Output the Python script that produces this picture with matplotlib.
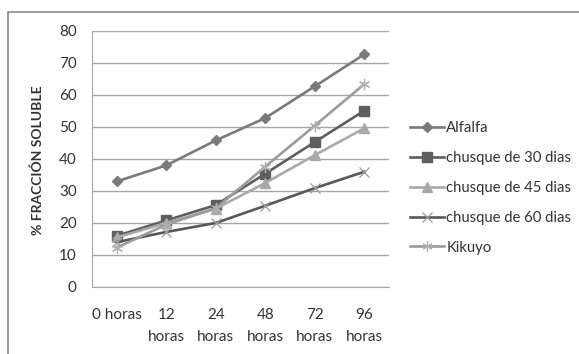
import matplotlib
matplotlib.use("Agg")
import matplotlib.pyplot as plt
from matplotlib.patches import Rectangle

plt.rcParams['font.family'] = ['Lato', 'DejaVu Sans']

categories = ["0 horas", "12\nhoras", "24\nhoras", "48\nhoras", "72\nhoras", "96\nhoras"]
alfalfa = [33.0, 38.0, 45.8, 52.8, 62.7, 72.7]
chusque_30 = [16.0, 20.8, 25.6, 35.4, 45.3, 55.1]
chusque_45 = [15.5, 20.0, 24.5, 32.5, 41.2, 49.6]
chusque_60 = [14.0, 17.2, 20.0, 25.4, 30.9, 36.0]
kikuyo = [12.3, 19.5, 24.6, 37.6, 50.4, 63.4]
y_ticks = [0, 10, 20, 30, 40, 50, 60, 70, 80]

fig = plt.figure(figsize=(5.79, 3.54), dpi=100)
fig.patch.set_facecolor("white")

# chart frame
fig.add_artist(Rectangle((8 / 579, -0.05), 1.0, 1 - 12 / 354 + 0.05,
                         transform=fig.transFigure, fill=False,
                         edgecolor="#8a8a8a", linewidth=1.2))

ax = fig.add_axes([92 / 579, 1 - 287 / 354, 297 / 579, 256 / 354])
ax.set_facecolor("white")
x = list(range(len(categories)))

ax.plot(x, alfalfa, color="#7a7a7a", lw=1.9, marker="D", ms=5.5,
        label="Alfalfa", zorder=3)
ax.plot(x, chusque_30, color="#5e5e5e", lw=1.9, marker="s", ms=7.5,
        label="chusque de 30 dias", zorder=3)
ax.plot(x, chusque_45, color="#a9a9a9", lw=1.9, marker="^", ms=7.5,
        label="chusque de 45 dias", zorder=3)
ax.plot(x, chusque_60, color="#585858", lw=1.9, marker="x", ms=7.5,
        mec="#9a9a9a", mew=0.9, label="chusque de 60 dias", zorder=3)
ax.plot(x, kikuyo, color="#9c9c9c", lw=1.9, marker=(6, 2, 0), ms=8,
        mec="#b0b0b0", mew=0.9, label="Kikuyo", zorder=4)

ax.set_xlim(-0.5, len(categories) - 0.5)
ax.set_ylim(0, 80)
ax.set_yticks(y_ticks)
ax.set_xticks(x)
ax.set_xticklabels(categories, fontsize=11, color="#333333", linespacing=1.75,
                   va="top")
ax.tick_params(axis="x", length=0, pad=15)
ax.tick_params(axis="y", length=0, pad=11, labelsize=11, labelcolor="#333333")

ax.grid(axis="y", color="#a6a6a6", lw=1.0, zorder=0)
ax.set_axisbelow(True)
for s in ["top", "right"]:
    ax.spines[s].set_visible(False)
ax.spines["left"].set_color("#a6a6a6")
ax.spines["bottom"].set_color("#a6a6a6")

fig.text(38 / 579, 1 - 160 / 354, "% FRACCIÓN SOLUBLE", rotation=90,
         ha="center", va="center", fontsize=10, fontweight="bold",
         color="#333333")

leg = ax.legend(loc="upper left", bbox_to_anchor=(410 / 579, 1 - 121 / 354),
                bbox_transform=fig.transFigure, frameon=False, fontsize=10.7,
                labelspacing=1.07, handlelength=2.3, handletextpad=0.15,
                borderaxespad=0, borderpad=0, markerscale=0.9)
for t in leg.get_texts():
    t.set_color("#333333")

fig.savefig("out.png", dpi=100, facecolor="white")
